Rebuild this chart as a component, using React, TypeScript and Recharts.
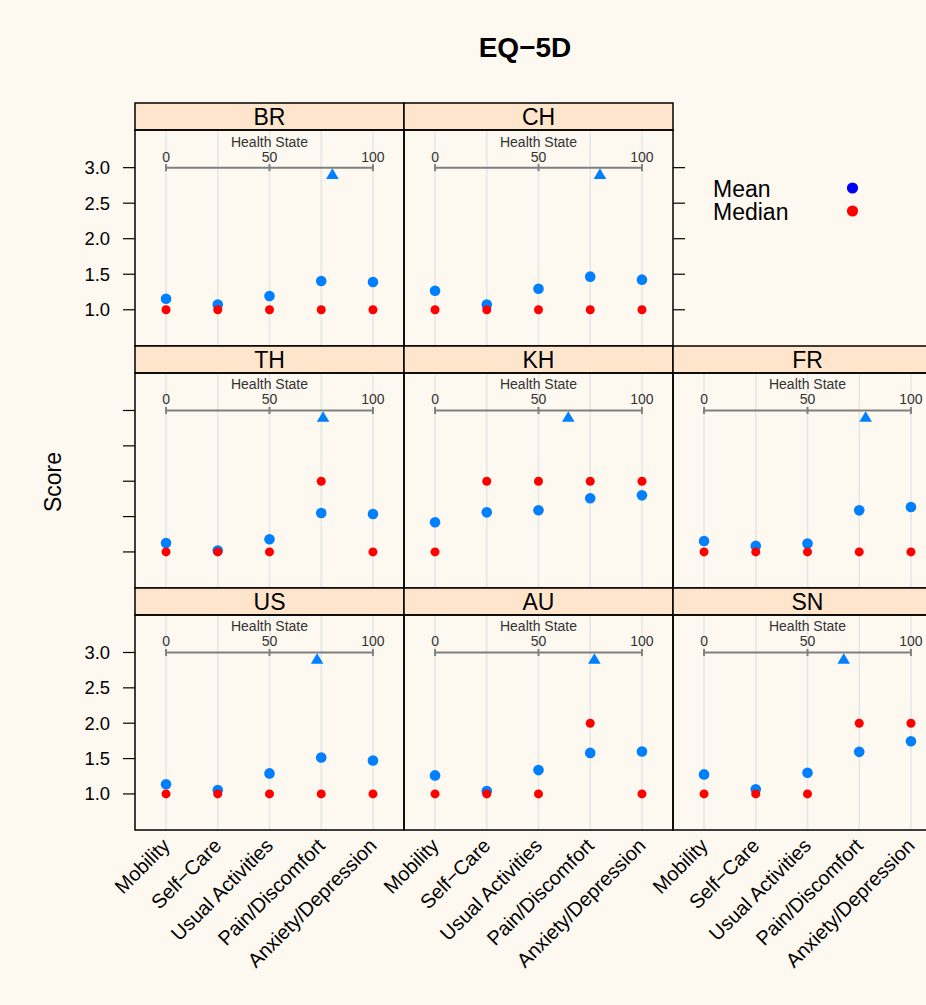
import React from 'react';
import { ScatterChart, Scatter, XAxis, YAxis, ReferenceLine } from 'recharts';

// EQ-5D dimensions (x categories)
const CATEGORIES = ['Mobility', 'Self\u2212Care', 'Usual Activities', 'Pain/Discomfort', 'Anxiety/Depression'];
const COUNTRIES = ['BR', 'CH', 'TH', 'KH', 'FR', 'US', 'AU', 'SN'];

// mean score per dimension
const BR_MEAN = [1.155, 1.075, 1.193, 1.405, 1.39];
const CH_MEAN = [1.268, 1.075, 1.296, 1.466, 1.424];
const TH_MEAN = [1.127, 1.02, 1.18, 1.55, 1.536];
const KH_MEAN = [1.42, 1.56, 1.59, 1.76, 1.8];
const FR_MEAN = [1.155, 1.085, 1.118, 1.588, 1.635];
const US_MEAN = [1.136, 1.056, 1.29, 1.515, 1.473];
const AU_MEAN = [1.262, 1.04, 1.337, 1.58, 1.6];
const SN_MEAN = [1.276, 1.066, 1.3, 1.595, 1.745];

// median score per dimension
const BR_MEDIAN = [1, 1, 1, 1, 1];
const CH_MEDIAN = [1, 1, 1, 1, 1];
const TH_MEDIAN = [1, 1, 1, 2, 1];
const KH_MEDIAN = [1, 2, 2, 2, 2];
const FR_MEDIAN = [1, 1, 1, 1, 1];
const US_MEDIAN = [1, 1, 1, 1, 1];
const AU_MEDIAN = [1, 1, 1, 2, 1];
const SN_MEDIAN = [1, 1, 1, 2, 2];

// mean health state (VAS 0-100), same order as COUNTRIES
const HEALTH_STATE = [80.4, 79.7, 75.9, 64.4, 78.1, 73, 77, 67.5];

const Y_TICKS = [1.0, 1.5, 2.0, 2.5, 3.0];
const HS_TICKS = [0, 50, 100];
const HS_AXIS_Y = 3;
const TRI_Y = 2.92;

const MEANS = [BR_MEAN, CH_MEAN, TH_MEAN, KH_MEAN, FR_MEAN, US_MEAN, AU_MEAN, SN_MEAN];
const MEDIANS = [BR_MEDIAN, CH_MEDIAN, TH_MEDIAN, KH_MEDIAN, FR_MEDIAN, US_MEDIAN, AU_MEDIAN, SN_MEDIAN];
// lattice layout position of each country: [col, row]
const GRID_POS = [[0, 0], [1, 0], [0, 1], [1, 1], [2, 1], [0, 2], [1, 2], [2, 2]];

const FONT = '"Liberation Sans", Arial, Helvetica, sans-serif';
const BG = '#FDF8F0';
const STRIP_BG = '#FFE5CC';
const MEAN_COL = '#0080FF';
const MEDIAN_COL = '#FF0000';

const COL_X = [135, 404, 673];
const PANEL_W = 269;
const STRIP_Y = [103, 346, 588];
const STRIP_H = 27;
const PLOT_H = [216, 215, 215];
const X_DOMAIN = [0.4, 5.6];
const HS_DOMAIN = [-15, 115];
const Y_DOMAIN = [0.49, 3.53];

const MeanDot = (p: any) => <circle cx={p.cx} cy={p.cy} r={5.3} fill={MEAN_COL} />;
const MedianDot = (p: any) => <circle cx={p.cx} cy={p.cy} r={4.5} fill={MEDIAN_COL} />;
const Triangle = (p: any) => (
  <polygon
    points={`${p.cx},${p.cy - 5} ${p.cx - 6.3},${p.cy + 5.7} ${p.cx + 6.3},${p.cy + 5.7}`}
    fill={MEAN_COL}
  />
);
const HsTick = (p: any) => {
  const v = p.payload?.hs ?? p.hs;
  return (
    <g>
      <line x1={p.cx} x2={p.cx} y1={p.cy - 3.5} y2={p.cy + 3.5} stroke="#808080" strokeWidth={2} />
      <text x={p.cx} y={p.cy - 6} textAnchor="middle" fontSize={14} fontFamily={FONT} fill="#333">
        {v}
      </text>
    </g>
  );
};
const HsTitle = (p: any) => (
  <text x={p.cx} y={p.cy - 21} textAnchor="middle" fontSize={14} fontFamily={FONT} fill="#333">
    Health State
  </text>
);
const CatTick = (p: any) => {
  const x = p.x;
  const y = p.y + 12;
  return (
    <text
      x={x}
      y={y}
      transform={`rotate(-45 ${x} ${y})`}
      textAnchor="end"
      dominantBaseline="central"
      fontSize={20}
      fontFamily={FONT}
      fill="#000"
    >
      {CATEGORIES[p.payload.value - 1]}
    </text>
  );
};

function Panel({ idx }: { idx: number }) {
  const [col, row] = GRID_POS[idx];
  const leftW = col === 0 ? 60 : 0;
  const rightW = row === 0 && col === 1 ? 20 : 0;
  const bottomH = row === 2 ? 170 : 0;
  // room on the left for the rotated category labels of the bottom row
  const padL = row === 2 && col > 0 ? 70 : 0;
  const showLabels = col === 0 && row !== 1;
  const meanData = MEANS[idx].map((v, i) => ({ x: i + 1, y: v }));
  const medianData = MEDIANS[idx].map((v, i) => ({ x: i + 1, y: v }));
  const hsTicks = HS_TICKS.map((t) => ({ hs: t, y: HS_AXIS_Y }));

  return (
    <div style={{ position: 'absolute', left: COL_X[col] - leftW - padL, top: STRIP_Y[row] + STRIP_H }}>
      <ScatterChart
        width={PANEL_W + leftW + rightW + padL}
        height={PLOT_H[row] + bottomH}
        margin={{ top: 0, right: 0, bottom: 0, left: padL }}
      >
        <XAxis
          xAxisId="cat"
          type="number"
          dataKey="x"
          domain={X_DOMAIN}
          ticks={[1, 2, 3, 4, 5]}
          interval={0}
          hide={row !== 2}
          height={bottomH}
          axisLine={false}
          tickLine={false}
          tickSize={0}
          tickMargin={0}
          tick={(props: any) => <CatTick {...props} />}
          allowDataOverflow
        />
        <XAxis xAxisId="hs" type="number" dataKey="hs" domain={HS_DOMAIN} hide allowDataOverflow />
        <YAxis
          type="number"
          dataKey="y"
          domain={Y_DOMAIN}
          ticks={Y_TICKS}
          interval={0}
          hide={!(leftW || rightW)}
          orientation={rightW ? 'right' : 'left'}
          width={leftW || rightW || 1}
          axisLine={false}
          tickSize={12}
          tickMargin={13}
          tickLine={{ stroke: '#000', strokeWidth: 1.2 }}
          tick={{ fill: '#000', fontSize: 18.4, fontFamily: FONT }}
          tickFormatter={(v: number) => (showLabels ? v.toFixed(1) : '')}
          allowDataOverflow
        />
        {CATEGORIES.map((c, i) => (
          <ReferenceLine key={c} xAxisId="cat" x={i + 1} stroke="#E6E6E6" strokeWidth={1.5} />
        ))}
        <ReferenceLine
          xAxisId="hs"
          segment={[{ x: 0, y: HS_AXIS_Y }, { x: 100, y: HS_AXIS_Y }]}
          stroke="#808080"
          strokeWidth={2}
        />
        <Scatter xAxisId="hs" data={hsTicks} shape={HsTick} isAnimationActive={false} />
        <Scatter xAxisId="hs" data={[{ hs: 50, y: HS_AXIS_Y }]} shape={HsTitle} isAnimationActive={false} />
        <Scatter xAxisId="hs" data={[{ hs: HEALTH_STATE[idx], y: TRI_Y }]} shape={Triangle} isAnimationActive={false} />
        <Scatter xAxisId="cat" data={meanData} shape={MeanDot} isAnimationActive={false} />
        <Scatter xAxisId="cat" data={medianData} shape={MedianDot} isAnimationActive={false} />
      </ScatterChart>
    </div>
  );
}

export default function App() {
  return (
    <div
      style={{
        position: 'absolute',
        left: 0,
        top: 0,
        width: 926,
        height: 1005,
        overflow: 'hidden',
        background: BG,
        fontFamily: FONT,
      }}
    >
      {COUNTRIES.map((c, i) => (
        <Panel key={c} idx={i} />
      ))}
      <svg width={926} height={1005} style={{ position: 'absolute', left: 0, top: 0, pointerEvents: 'none' }}>
        <text x={525} y={57} textAnchor="middle" fontSize={28} fontWeight="bold" fontFamily={FONT} fill="#000">
          EQ{'\u2212'}5D
        </text>
        <text
          x={53}
          y={482}
          transform="rotate(-90 53 482)"
          textAnchor="middle"
          dominantBaseline="central"
          fontSize={23}
          fontFamily={FONT}
          fill="#000"
        >
          Score
        </text>
        {COUNTRIES.map((c, i) => {
          const [col, row] = GRID_POS[i];
          const x = COL_X[col];
          return (
            <g key={c}>
              <rect x={x} y={STRIP_Y[row]} width={PANEL_W} height={STRIP_H} fill={STRIP_BG} stroke="#000" strokeWidth={1.5} />
              <text x={x + PANEL_W / 2} y={STRIP_Y[row] + 22} textAnchor="middle" fontSize={23} fontFamily={FONT} fill="#000">
                {c}
              </text>
              <rect x={x} y={STRIP_Y[row] + STRIP_H} width={PANEL_W} height={PLOT_H[row]} fill="none" stroke="#000" strokeWidth={1.5} />
            </g>
          );
        })}
        <text x={713} y={196.5} fontSize={23} fontFamily={FONT} fill="#000">Mean</text>
        <text x={713} y={220} fontSize={23} fontFamily={FONT} fill="#000">Median</text>
        <circle cx={852.5} cy={188} r={5.6} fill="#0000FF" />
        <circle cx={852.5} cy={211} r={5.6} fill="#FF0000" />
      </svg>
    </div>
  );
}
